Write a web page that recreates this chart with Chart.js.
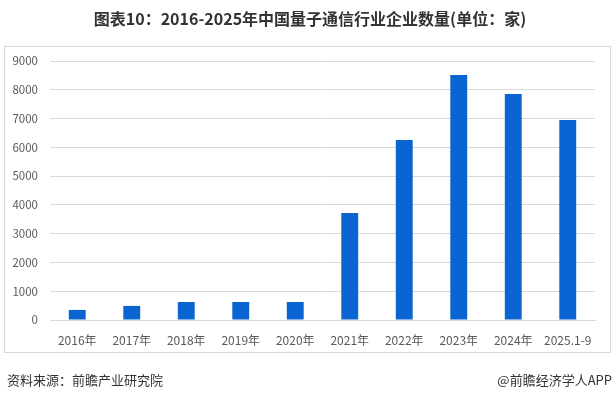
<!DOCTYPE html>
<html>
<head>
<meta charset="utf-8">
<script src="https://cdn.jsdelivr.net/npm/chart.js@4/dist/chart.umd.min.js"></script>
<style>
  html, body { margin: 0; padding: 0; background: #fff; }
  #wrap { width: 616px; height: 399px; position: relative; }
</style>
</head>
<body>
<div id="wrap"><canvas id="c" width="616" height="399"></canvas></div>
<script>
const titleText = '图表10：2016-2025年中国量子通信行业企业数量(单位：家)';
const sourceText = '资料来源：前瞻产业研究院';
const brandText = '@前瞻经济学人APP';
const years = ['2016年','2017年','2018年','2019年','2020年','2021年','2022年','2023年','2024年','2025.1-9'];
const companyCounts = [350, 490, 625, 625, 625, 3720, 6255, 8515, 7855, 6950];
const yMax = 9000;
const yStep = 1000;

const FONT = '"Noto Sans CJK SC", "Noto Sans", sans-serif';

// frame, title and footer are painted straight onto the canvas
const decor = {
  id: 'decor',
  beforeDraw(chart) {
    const ctx = chart.ctx;
    ctx.save();
    ctx.fillStyle = '#fff';
    ctx.fillRect(0, 0, chart.width, chart.height);
    ctx.strokeStyle = '#d9d9d9';
    ctx.lineWidth = 1;
    ctx.strokeRect(4.5, 46.5, 606, 306);
    ctx.restore();
  },
  afterDraw(chart) {
    const ctx = chart.ctx;
    ctx.save();
    ctx.fillStyle = '#333';
    ctx.textBaseline = 'middle';
    ctx.font = 'bold 16px ' + FONT;
    ctx.textAlign = 'center';
    ctx.fillText(titleText, 310, 19);
    ctx.font = '13px ' + FONT;
    ctx.textAlign = 'left';
    ctx.fillText(sourceText, 7, 380);
    ctx.textAlign = 'right';
    ctx.fillText(brandText, 612, 380);
    ctx.restore();
  }
};

new Chart(document.getElementById('c').getContext('2d'), {
  type: 'bar',
  data: {
    labels: years,
    datasets: [{
      label: '企业数量',
      data: companyCounts,
      backgroundColor: '#0a64d2',
      categoryPercentage: 1,
      barPercentage: 0.31
    }]
  },
  options: {
    responsive: false,
    animation: false,
    layout: { padding: { left: 0, right: 21, top: 61, bottom: 49 } },
    plugins: { legend: { display: false }, tooltip: { enabled: false } },
    scales: {
      x: {
        grid: { display: false },
        border: { color: '#d9d9d9' },
        ticks: { color: '#595959', font: { family: FONT, size: 12 }, padding: 5, maxRotation: 0, autoSkip: false },
        afterFit(s) { s.height = 30; }
      },
      y: {
        min: 0,
        max: yMax,
        grid: { color: '#d9d9d9', drawTicks: false },
        border: { display: false },
        ticks: {
          stepSize: yStep, color: '#595959', font: { family: FONT, size: 11.5 }, padding: 12,
          callback: v => String(v)
        },
        afterFit(s) { s.width = 50; }
      }
    }
  },
  plugins: [decor]
});
</script>
</body>
</html>
